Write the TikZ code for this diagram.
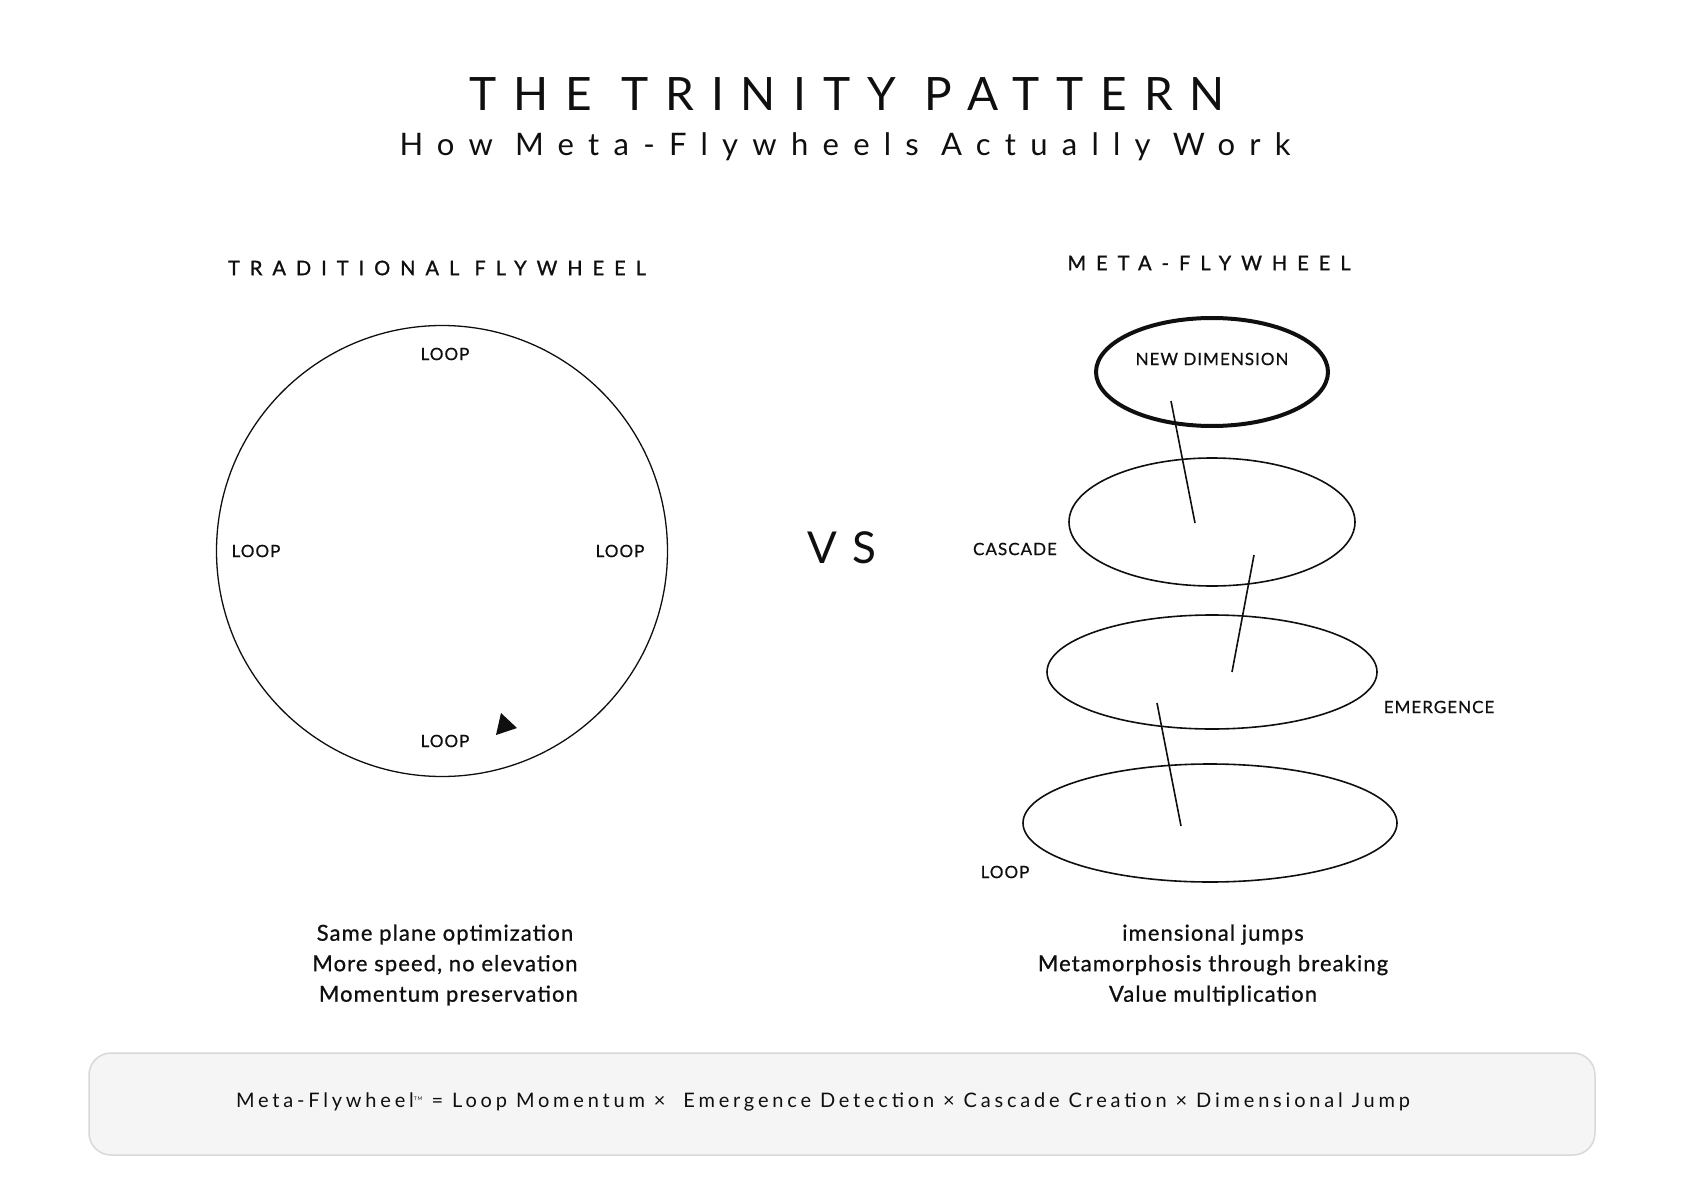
\documentclass[tikz,border=0pt]{standalone}
\usepackage{fontspec}
\setmainfont{Lato}
\usetikzlibrary{positioning, arrows.meta}
\definecolor{inkblack}{RGB}{15,15,15}
\definecolor{boxgray}{RGB}{245,245,245}
\definecolor{edgegray}{RGB}{216,216,216}
\newfontfamily\titlefont[LetterSpace=37]{Lato}
\newfontfamily\subfont[LetterSpace=46]{Lato}
\newfontfamily\headfont[LetterSpace=50,FakeBold=1.2]{Lato}
\newfontfamily\labelfont[LetterSpace=6,FakeBold=0.6]{Lato}
\newfontfamily\notefont[LetterSpace=5,FakeBold=0.8]{Lato}
\newfontfamily\formulafont[LetterSpace=19]{Lato}

\begin{document}
\begin{tikzpicture}[x=1pt, y=-1pt, line width=1.3pt, inkblack,
    titletext/.style={font=\titlefont\fontsize{46}{50}\selectfont, inner sep=0pt},
    subtext/.style={font=\subfont\fontsize{31}{36}\selectfont, inner sep=0pt},
    headtext/.style={font=\headfont\fontsize{20}{24}\selectfont, inner sep=0pt},
    looptext/.style={font=\labelfont\fontsize{17}{20}\selectfont, inner sep=0pt},
    notetext/.style={font=\notefont\fontsize{22}{30.5}\selectfont, inner sep=0pt, align=center},
    wheel/.style={line width=1.6pt}]
    \useasboundingbox (0,0) rectangle (1684,1190);

    % titel
    \node[titletext] (title) at (847,94) {THE TRINITY PATTERN};
    \node[subtext] (subtitle) at (845,147) {How Meta-Flywheels Actually Work};

    % linke seite
    \node[headtext] (tradhead) at (437,268) {TRADITIONAL FLYWHEEL};
    \coordinate (hub) at (442,551);
    \draw (hub) circle (225.5);
    \node[looptext] (looptop) at (445,354) {LOOP};
    \node[looptext] (loopleft) at (256,551) {LOOP};
    \node[looptext] (loopright) at (620,551) {LOOP};
    \node[looptext] (loopbottom) at (445,741) {LOOP};
    \fill (501,713) -- (517,728) -- (496,735) -- cycle;

    \node[font=\titlefont\fontsize{44}{48}\selectfont, inner sep=0pt] (vs) at (842,548) {VS};

    % rechte seite
    \node[headtext] (metahead) at (1209,263) {META-FLYWHEEL};
    \coordinate (lvl4) at (1212,372);
    \coordinate (lvl3) at (1212,522);
    \coordinate (lvl2) at (1212,672);
    \coordinate (lvl1) at (1210,823);
    \draw[line width=4pt] (lvl4) ellipse [x radius=116, y radius=54];
    \draw[wheel] (lvl3) ellipse [x radius=143, y radius=64];
    \draw[wheel] (lvl2) ellipse [x radius=165, y radius=57];
    \draw[wheel] (lvl1) ellipse [x radius=187, y radius=59];

    \coordinate (jumpAtop) at (1171,401);
    \coordinate (jumpAbot) at (1195,523);
    \coordinate (jumpBtop) at (1254,555);
    \coordinate (jumpBbot) at (1232,672);
    \coordinate (jumpCtop) at (1157,703);
    \coordinate (jumpCbot) at (1181,826);
    \draw[wheel] (jumpAtop) -- (jumpAbot);
    \draw[wheel] (jumpBtop) -- (jumpBbot);
    \draw[wheel] (jumpCtop) -- (jumpCbot);

    \node[looptext] (newdim) at (1212,359) {NEW DIMENSION};
    \node[looptext] (cascade) at (1015,549) {CASCADE};
    \node[looptext] (emergence) at (1439,707) {EMERGENCE};
    \node[looptext] (looplow) at (1005,872) {LOOP};

    % beschreibungen
    \node[notetext] (tradnote) at (445,965) {Same plane optimization\\More speed, no elevation\\\ Momentum preservation};
    \node[notetext] (metanote) at (1213,965) {imensional jumps\\Metamorphosis through breaking\\Value multiplication};

    % formel
    \draw[fill=boxgray, draw=edgegray, line width=1.5pt, rounded corners=22pt] (89,1053) rectangle (1595,1155);
    \node[font=\formulafont\fontsize{20}{24}\selectfont, inner sep=0pt] (formula) at (823,1102)
        {Meta-Flywheel\textsuperscript{\tiny TM} = Loop Momentum × \ Emergence Detection × Cascade Creation × Dimensional Jump};
\end{tikzpicture}
\end{document}
